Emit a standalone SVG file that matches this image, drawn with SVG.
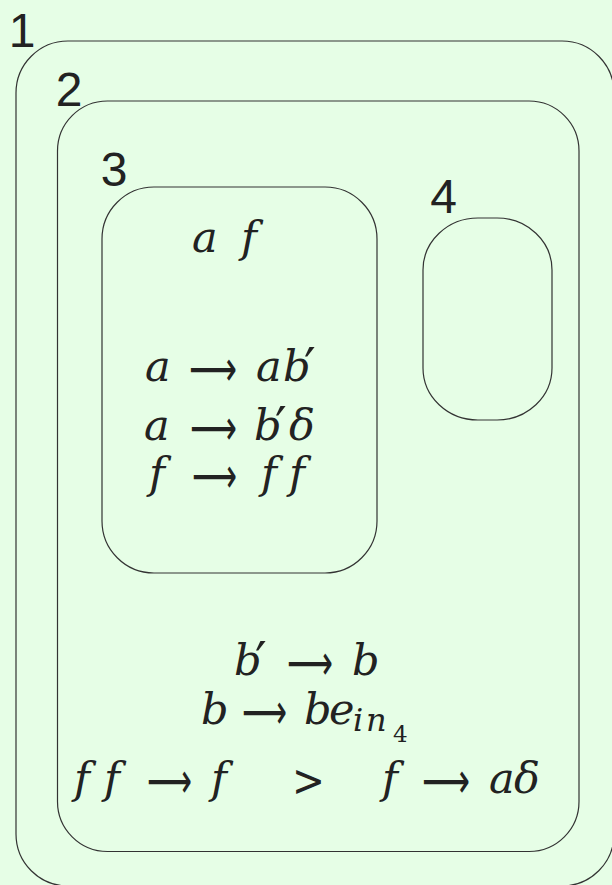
<svg xmlns="http://www.w3.org/2000/svg" width="612" height="885" viewBox="0 0 612 885">
<style>
.bg{fill:#e6fee6}
.m{fill:none;stroke:#333;stroke-width:1.2}
.t{font-family:"DejaVu Serif","Liberation Serif",serif;font-style:italic;font-size:43px;fill:#222}
.ar{font-family:"DejaVu Sans",sans-serif;font-style:normal;font-size:50px}
.up{font-family:"DejaVu Sans",sans-serif;font-style:normal;font-size:44px}
.pr{font-family:"DejaVu Sans",sans-serif;font-style:normal;font-size:52px}
.sub{font-size:32px}
.sub2{font-style:normal;font-size:23px}
.lbl{font-family:"Liberation Sans",sans-serif;font-size:48px;text-anchor:middle;fill:#222}
</style>
<rect class="bg" x="0" y="0" width="612" height="885"/>
<g id="membrane1">
<rect class="m" x="16" y="41" width="598" height="845" rx="52" ry="52"/>
<text class="lbl" x="22" y="47">1</text>
</g>
<g id="membrane2">
<rect class="m" x="57.5" y="101" width="521.5" height="750.5" rx="50" ry="50"/>
<text class="lbl" x="69" y="106">2</text>
<text class="t" y="675"><tspan x="234">b</tspan><tspan class="pr" x="255" dy="4">′</tspan><tspan class="ar" x="287" dy="1" textLength="46" lengthAdjust="spacingAndGlyphs">⟶</tspan><tspan x="352" dy="-5">b</tspan></text>
<text class="t" y="724"><tspan x="201">b</tspan><tspan class="ar" x="242" dy="5" textLength="45" lengthAdjust="spacingAndGlyphs">⟶</tspan><tspan x="304" dy="-5">b</tspan><tspan x="329">e</tspan><tspan class="sub" x="353" dy="7">i</tspan><tspan class="sub" x="366">n</tspan><tspan class="sub2" x="393" dy="11">4</tspan></text>
<text class="t" y="793"><tspan x="74">f</tspan><tspan x="104">f</tspan><tspan class="ar" x="147" dy="5" textLength="45" lengthAdjust="spacingAndGlyphs">⟶</tspan><tspan x="211" dy="-5">f</tspan><tspan class="up" x="292" dy="3" textLength="33" lengthAdjust="spacingAndGlyphs">&gt;</tspan><tspan x="382" dy="-3">f</tspan><tspan class="ar" x="422" dy="5" textLength="48" lengthAdjust="spacingAndGlyphs">⟶</tspan><tspan x="489" dy="-5">a</tspan><tspan x="514">δ</tspan></text>
</g>
<g id="membrane3">
<rect class="m" x="102" y="187" width="275" height="386" rx="52" ry="52"/>
<text class="lbl" x="114" y="186">3</text>
<text class="t" y="252"><tspan x="192">a</tspan><tspan x="241">f</tspan></text>
<text class="t" y="381"><tspan x="145">a</tspan><tspan class="ar" x="189" dy="5" textLength="48" lengthAdjust="spacingAndGlyphs">⟶</tspan><tspan x="256" dy="-5">a</tspan><tspan x="283">b</tspan><tspan class="pr" x="304" dy="4">′</tspan></text>
<text class="t" y="440"><tspan x="144">a</tspan><tspan class="ar" x="190" dy="5" textLength="47" lengthAdjust="spacingAndGlyphs">⟶</tspan><tspan x="254" dy="-5">b</tspan><tspan class="pr" x="275" dy="4">′</tspan><tspan x="289" dy="-4">δ</tspan></text>
<text class="t" y="488"><tspan x="149">f</tspan><tspan class="ar" x="192" dy="5" textLength="45" lengthAdjust="spacingAndGlyphs">⟶</tspan><tspan x="261" dy="-5">f</tspan><tspan x="289">f</tspan></text>
</g>
<g id="membrane4">
<rect class="m" x="423" y="218" width="129" height="202" rx="55" ry="52"/>
<text class="lbl" x="443.5" y="213">4</text>
</g>
</svg>
